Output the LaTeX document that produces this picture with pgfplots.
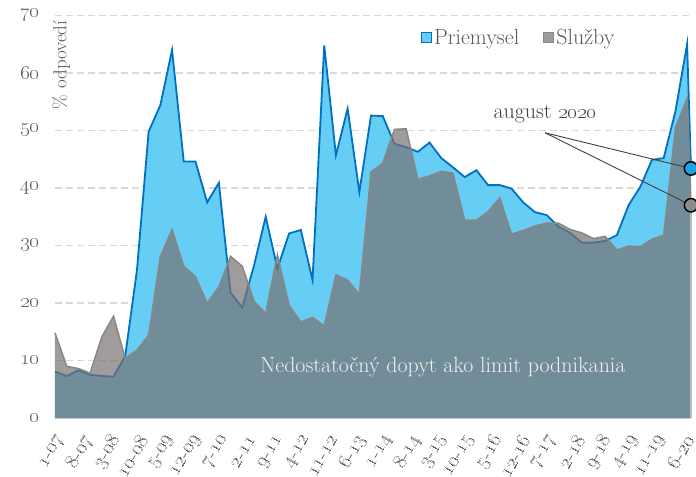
\documentclass[border=0pt]{standalone}
\usepackage{pgfplots}
\pgfplotsset{compat=1.18}
\usepackage{pgfplotstable}
\definecolor{lightblue}{RGB}{102,205,245}
\definecolor{blueline}{RGB}{0,112,192}
\definecolor{grayfill}{RGB}{119,114,114}
\definecolor{grayline}{RGB}{135,135,135}
\definecolor{txt}{RGB}{89,89,89}
\definecolor{txtdark}{RGB}{64,64,64}
\definecolor{gridc}{RGB}{217,217,217}
\definecolor{circblue}{RGB}{27,163,228}
\definecolor{circgray}{RGB}{140,140,140}
\definecolor{legendgray}{RGB}{160,156,156}

\pgfplotstableread{
m blue gray
0 8.1 14.8
3 7.3 9.0
6 8.3 8.6
9 7.5 7.8
12 7.3 14.1
15 7.2 17.7
18 10.8 10.4
21 25.7 11.8
24 49.8 14.4
27 54.4 28.1
30 64.0 32.8
33 44.6 26.4
36 44.6 24.6
39 37.5 20.0
42 40.9 22.8
45 21.8 28.1
48 19.2 26.4
51 26.5 20.3
54 35.0 18.2
57 26.0 28.4
60 32.1 19.6
63 32.7 16.7
66 24.0 17.5
69 64.8 16.0
72 45.7 24.9
75 53.8 24.0
78 39.3 21.5
81 52.6 42.8
84 52.5 44.3
87 47.7 50.2
90 47.1 50.3
93 46.3 41.5
96 47.9 42.1
99 45.2 42.9
102 43.6 42.6
105 41.9 34.4
108 43.1 34.4
111 40.5 35.9
114 40.5 38.3
117 39.9 32.0
120 37.5 32.6
123 35.8 33.4
126 35.3 33.9
129 33.3 33.9
132 32.2 32.8
135 30.5 32.2
138 30.5 31.2
141 30.8 31.6
144 31.8 29.2
147 37.0 29.9
150 40.2 29.8
153 44.9 31.1
156 45.2 31.8
159 53.3 50.4
162 65.0 55.6
163 43.4 37.0
}\data

\newcommand{\osn}[1]{\oldstylenums{#1}}
\newcommand{\lbl}[2]{\osn{#1}-\osn{#2}}

\begin{document}
\begin{tikzpicture}
\begin{axis}[
  at={(0,0)}, anchor=south west,
  scale only axis, width=636bp, height=402.5bp,
  xmin=0, xmax=163, ymin=0, ymax=70,
  clip=false,
  axis x line*=bottom, axis y line*=left,
  x axis line style={gridc, line width=1.5bp},
  y axis line style={draw=none},
  major tick length=0pt,
  ytick={0,10,...,70},
  yticklabels={\osn{0},\osn{10},\osn{20},\osn{30},\osn{40},\osn{50},\osn{60},\osn{70}},
  yticklabel style={anchor=east, xshift=-12bp},
  xtick={0,7,...,161},
  xticklabels={\lbl{1}{07},\lbl{8}{07},\lbl{3}{08},\lbl{10}{08},\lbl{5}{09},\lbl{12}{09},\lbl{7}{10},\lbl{2}{11},\lbl{9}{11},\lbl{4}{12},\lbl{11}{12},\lbl{6}{13},\lbl{1}{14},\lbl{8}{14},\lbl{3}{15},\lbl{10}{15},\lbl{5}{16},\lbl{12}{16},\lbl{7}{17},\lbl{2}{18},\lbl{9}{18},\lbl{4}{19},\lbl{11}{19},\lbl{6}{20}},
  xticklabel style={xshift=8bp, yshift=-16bp, rotate=60, anchor=east},
  tick label style={font=\fontsize{20}{24}\selectfont, text=txt},
  ymajorgrids,
  grid style={gridc, line width=1.5bp, dash pattern=on 7bp off 4bp},
  legend columns=2,
  legend image code/.code={\draw[#1, line width=1.2bp] (0bp,-5bp) rectangle (10bp,5bp);},
  legend style={at={(0.575,0.972)}, anchor=north west, draw=none, fill=none,
    font=\fontsize{22}{26}\selectfont, text=txt, inner sep=0pt,
    /tikz/every even column/.append style={column sep=22bp}},
]
\addlegendimage{fill=lightblue, draw=blueline}
\addlegendentry{Priemysel}
\addlegendimage{fill=legendgray, draw=grayline}
\addlegendentry{Služby}

\addplot[draw=none, fill=lightblue, forget plot] table[x=m, y=blue]{\data} \closedcycle;
\addplot[blueline, line width=1.8bp, forget plot] table[x=m, y=blue]{\data};
\addplot[draw=none, fill=grayfill, fill opacity=0.7, forget plot] table[x=m, y=gray]{\data} \closedcycle;
\addplot[grayline, line width=1.5bp, forget plot] table[x=m, y=gray]{\data};
\draw[gridc!70!gray, line width=1.2bp] (axis cs:163,0) -- (axis cs:163,37.0);

\node[font=\fontsize{22}{26}\selectfont, text=white!94!black] at (axis cs:99.4,8.9) {Nedostatočný dopyt ako limit podnikania};
\node[font=\fontsize{19}{23}\selectfont, text=txt, rotate=90] at (axis cs:1.6,61.4) {\% odpovedí};
\node[font=\fontsize{22}{26}\selectfont, text=txtdark] at (axis cs:125.6,52.8) {august \osn{2020}};
\draw[txtdark, line width=0.9bp] (axis cs:125.6,49.6) -- (axis cs:163,43.4);
\draw[txtdark, line width=0.9bp] (axis cs:125.6,49.6) -- (axis cs:163,37.0);

\addplot[only marks, mark=*, mark size=6.7bp, mark options={fill=circblue, draw=black, line width=1.5bp}, forget plot] coordinates {(163,43.4)};
\addplot[only marks, mark=*, mark size=6.7bp, mark options={fill=circgray, draw=black, line width=1.5bp}, forget plot] coordinates {(163,37.0)};
\end{axis}
\pgfresetboundingbox
\path[use as bounding box] (-55bp,-59bp) rectangle (641bp,418bp);
\end{tikzpicture}
\end{document}
